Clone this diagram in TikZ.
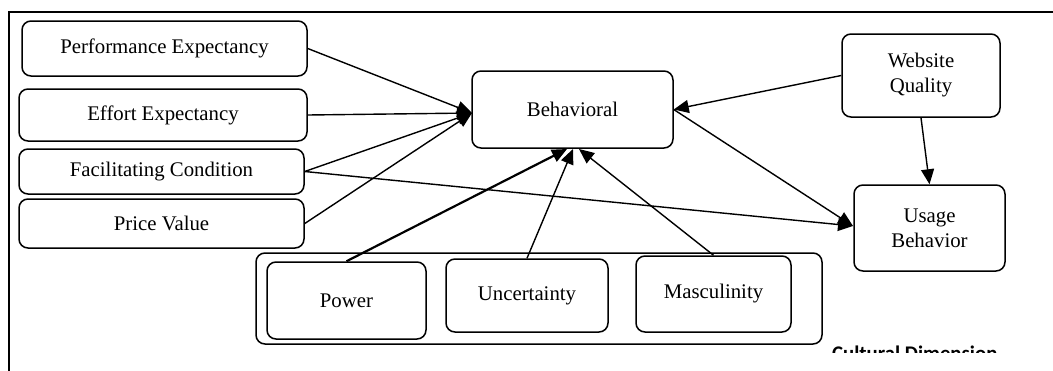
\documentclass[tikz,border=0pt]{standalone}
\usepackage{fontspec}
\setmainfont{Liberation Serif}
\newfontfamily\capfont{Carlito}
\usetikzlibrary{arrows.meta,calc}
\begin{document}
\begin{tikzpicture}[x=1pt,y=-1pt,
  box/.style={draw,line width=1.5pt,rounded corners=9pt,inner sep=0pt,align=center,
    font=\fontsize{20.8}{25}\selectfont},
  conn/.style={line width=1.4pt,-{Triangle[length=15pt,width=13pt]}},
  thickconn/.style={conn,line width=2.2pt},
]
\useasboundingbox (0,0) rectangle (1053,370);
\draw[line width=1.8pt] (9,372) -- (9,12) -- (1055,12);

% left factors
\node[box,minimum width=285pt,minimum height=55pt] (pe) at (164.5,48.5) {Performance Expectancy};
\node[box,minimum width=288pt,minimum height=52pt] (ee) at (163,115) {Effort Expectancy};
\node[box,minimum width=285pt,minimum height=45pt] (fc) at (161.5,171.5) {Facilitating Condition};
\node[box,minimum width=285pt,minimum height=49pt] (pv) at (161.5,223.5) {Price Value};

% central
\node[box,minimum width=201pt,minimum height=77pt] (beh) at (572.5,109.5) {Behavioral};
\node[box,minimum width=158pt,minimum height=83pt] (wq) at (921,75.5) {Website\\Quality};
\node[box,minimum width=151pt,minimum height=86pt] (ub) at (929.5,228) {Usage\\Behavior};

% cultural dimension group
\node[box,minimum width=566pt,minimum height=91pt] (cult) at (539,298.5) {};
\node[box,minimum width=159pt,minimum height=77pt] (pow) at (346.5,300.5) {Power};
\node[box,minimum width=162pt,minimum height=73pt] (unc) at (527,295.5) {Uncertainty};
\node[box,minimum width=155pt,minimum height=76pt] (mas) at (713.5,294) {Masculinity};

\begin{scope}
  \clip (800,330) rectangle (1053,352);
  \node[anchor=base west,inner sep=0pt,font=\capfont\bfseries\fontsize{20.8}{24}\selectfont] (cd) at (832,360.5) {Cultural Dimension};
\end{scope}

% connectors
\coordinate (bl) at (472,113);
\coordinate (bs1) at (567,149);
\coordinate (bs2) at (573,149);
\coordinate (bs3) at (579,149);
\coordinate (ubl) at (853,226);

\draw[conn] (pe.east) -- (bl);
\draw[conn] (ee.east) -- (bl);
\draw[conn] (fc.east) -- (bl);
\draw[conn] (pv.east) -- (bl);
\draw[thickconn] (pow.north) -- (bs1);
\draw[conn] (unc.north) -- (bs2);
\draw[conn] (mas.north) -- (bs3);
\draw[conn] (wq.west) -- (beh.east);
\draw[conn] (beh.east) -- (ubl);
\draw[conn] (fc.east) -- (ubl);
\draw[conn] (wq.south) -- (ub.north);
\end{tikzpicture}
\end{document}
